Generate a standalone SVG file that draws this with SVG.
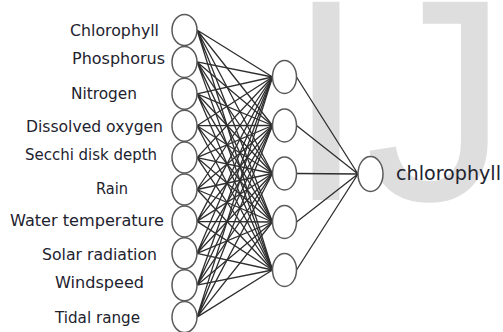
<svg xmlns="http://www.w3.org/2000/svg" width="503" height="332" viewBox="0 0 503 332">
<style>
.wm{font-family:"Liberation Sans",Arial,sans-serif;font-size:288px;fill:#dedede}
.lbl{font-family:"DejaVu Sans",sans-serif;font-size:16px;fill:#22222e}
.out{font-family:"DejaVu Sans",sans-serif;font-size:19px;fill:#22222e}
.n{fill:#fff;stroke:#5a5a5a;stroke-width:1.5}
.e{stroke:#2e2e2e;stroke-width:1.3;fill:none}
</style>
<rect width="503" height="332" fill="#fff"/>
<text class="wm" x="286" y="200" letter-spacing="-1">IJ</text>
<g id="connectors">
<g id="input-hidden" class="e">
<path d="M197,30L272.5,77M197,30L272.5,125.5M197,30L272.5,173.5M197,30L272.5,222M197,30L272.5,270"/>
<path d="M197,61.9L272.5,77M197,61.9L272.5,125.5M197,61.9L272.5,173.5M197,61.9L272.5,222M197,61.9L272.5,270"/>
<path d="M197,93.8L272.5,77M197,93.8L272.5,125.5M197,93.8L272.5,173.5M197,93.8L272.5,222M197,93.8L272.5,270"/>
<path d="M197,125.7L272.5,77M197,125.7L272.5,125.5M197,125.7L272.5,173.5M197,125.7L272.5,222M197,125.7L272.5,270"/>
<path d="M197,157.6L272.5,77M197,157.6L272.5,125.5M197,157.6L272.5,173.5M197,157.6L272.5,222M197,157.6L272.5,270"/>
<path d="M197,189.5L272.5,77M197,189.5L272.5,125.5M197,189.5L272.5,173.5M197,189.5L272.5,222M197,189.5L272.5,270"/>
<path d="M197,221.4L272.5,77M197,221.4L272.5,125.5M197,221.4L272.5,173.5M197,221.4L272.5,222M197,221.4L272.5,270"/>
<path d="M197,253.3L272.5,77M197,253.3L272.5,125.5M197,253.3L272.5,173.5M197,253.3L272.5,222M197,253.3L272.5,270"/>
<path d="M197,285.2L272.5,77M197,285.2L272.5,125.5M197,285.2L272.5,173.5M197,285.2L272.5,222M197,285.2L272.5,270"/>
<path d="M197,317.1L272.5,77M197,317.1L272.5,125.5M197,317.1L272.5,173.5M197,317.1L272.5,222M197,317.1L272.5,270"/>
</g>
<g id="hidden-output" class="e">
<path d="M296.5,77L358,174M296.5,125.5L358,174M296.5,173.5L358,174M296.5,222L358,174M296.5,270L358,174"/>
</g>
</g>
<g id="in1"><ellipse class="n" cx="184.5" cy="30" rx="12.5" ry="15.5"/><text class="lbl" x="70" y="36" textLength="89" lengthAdjust="spacingAndGlyphs">Chlorophyll</text></g>
<g id="in2"><ellipse class="n" cx="184.5" cy="61.9" rx="12.5" ry="15.5"/><text class="lbl" x="72" y="64" textLength="93" lengthAdjust="spacingAndGlyphs">Phosphorus</text></g>
<g id="in3"><ellipse class="n" cx="184.5" cy="93.8" rx="12.5" ry="15.5"/><text class="lbl" x="71" y="99" textLength="66" lengthAdjust="spacingAndGlyphs">Nitrogen</text></g>
<g id="in4"><ellipse class="n" cx="184.5" cy="125.7" rx="12.5" ry="15.5"/><text class="lbl" x="26" y="132" textLength="137" lengthAdjust="spacingAndGlyphs">Dissolved oxygen</text></g>
<g id="in5"><ellipse class="n" cx="184.5" cy="157.6" rx="12.5" ry="15.5"/><text class="lbl" x="25" y="160" textLength="132" lengthAdjust="spacingAndGlyphs">Secchi disk depth</text></g>
<g id="in6"><ellipse class="n" cx="184.5" cy="189.5" rx="12.5" ry="15.5"/><text class="lbl" x="96" y="194" textLength="32" lengthAdjust="spacingAndGlyphs">Rain</text></g>
<g id="in7"><ellipse class="n" cx="184.5" cy="221.4" rx="12.5" ry="15.5"/><text class="lbl" x="10" y="226" textLength="154" lengthAdjust="spacingAndGlyphs">Water temperature</text></g>
<g id="in8"><ellipse class="n" cx="184.5" cy="253.3" rx="12.5" ry="15.5"/><text class="lbl" x="42" y="260" textLength="115" lengthAdjust="spacingAndGlyphs">Solar radiation</text></g>
<g id="in9"><ellipse class="n" cx="184.5" cy="285.2" rx="12.5" ry="15.5"/><text class="lbl" x="55" y="288" textLength="89" lengthAdjust="spacingAndGlyphs">Windspeed</text></g>
<g id="in10"><ellipse class="n" cx="184.5" cy="317.1" rx="12.5" ry="15.5"/><text class="lbl" x="55" y="323" textLength="85" lengthAdjust="spacingAndGlyphs">Tidal range</text></g>
<g id="h1"><ellipse class="n" cx="284.5" cy="77" rx="12" ry="16.5"/></g>
<g id="h2"><ellipse class="n" cx="284.5" cy="125.5" rx="12" ry="16.5"/></g>
<g id="h3"><ellipse class="n" cx="284.5" cy="173.5" rx="12" ry="16.5"/></g>
<g id="h4"><ellipse class="n" cx="284.5" cy="222" rx="12" ry="16.5"/></g>
<g id="h5"><ellipse class="n" cx="284.5" cy="270" rx="12" ry="16.5"/></g>
<g id="out"><ellipse class="n" cx="370.5" cy="174" rx="12.5" ry="17.5"/><text class="out" x="396" y="180" textLength="105" lengthAdjust="spacingAndGlyphs">chlorophyll</text></g>
</svg>
